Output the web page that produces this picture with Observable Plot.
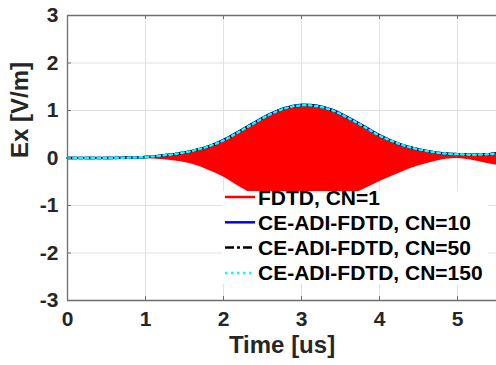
<!DOCTYPE html>
<html>
<head>
<meta charset="utf-8">
<script src="https://cdn.jsdelivr.net/npm/d3@7"></script>
<script src="https://cdn.jsdelivr.net/npm/@observablehq/plot@0.6"></script>
<style>
  html, body { margin: 0; padding: 0; background: white; }
  #wrap { position: relative; width: 496px; height: 365px; overflow: hidden; }
  #legend { position: absolute; left: 222px; top: 191px; width: 266px; height: 93px; background: white; }
  #legend svg { display: block; overflow: visible; }
</style>
</head>
<body>
<div id="wrap"></div>
<script>
// Time axis samples [us]
const time = [0, 0.5, 1.0, 1.2, 1.4, 1.6, 1.8, 2.0, 2.2, 2.4, 2.6, 2.8, 3.0, 3.2, 3.4, 3.6, 3.8, 4.0, 4.2, 4.4, 4.6, 4.8, 5.0, 5.2, 5.4, 5.5];
// FDTD, CN=1 : envelope of the fast oscillation (upper / lower)
const fdtdUpper = [0, 0, 0.02, 0.05, 0.09, 0.15, 0.24, 0.37, 0.55, 0.73, 0.9, 1.03, 1.09, 1.07, 0.98, 0.82, 0.64, 0.45, 0.31, 0.2, 0.12, 0.07, 0.04, 0.04, 0.06, 0.07];
const fdtdLower = [0, 0, -0.01, -0.03, -0.07, -0.13, -0.25, -0.4, -0.6, -0.78, -0.92, -1.03, -1.08, -1.06, -0.97, -0.82, -0.66, -0.5, -0.36, -0.22, -0.12, -0.04, -0.01, -0.05, -0.12, -0.15];
// CE-ADI-FDTD curves
const cn10  = [0, 0, 0.02, 0.05, 0.09, 0.15, 0.24, 0.38, 0.56, 0.75, 0.93, 1.06, 1.12, 1.1, 1.01, 0.85, 0.67, 0.48, 0.33, 0.22, 0.15, 0.1, 0.08, 0.07, 0.08, 0.1];
const cn50  = [0, 0, 0.02, 0.05, 0.09, 0.15, 0.24, 0.37, 0.55, 0.74, 0.92, 1.05, 1.11, 1.09, 1.0, 0.84, 0.66, 0.47, 0.33, 0.22, 0.15, 0.1, 0.08, 0.07, 0.08, 0.1];
const cn150 = [0, 0, 0.02, 0.05, 0.09, 0.15, 0.24, 0.37, 0.55, 0.74, 0.92, 1.05, 1.11, 1.09, 1.0, 0.84, 0.66, 0.47, 0.33, 0.22, 0.15, 0.1, 0.08, 0.07, 0.08, 0.1];

const xTicks = [0, 1, 2, 3, 4, 5];
const yTicks = [-3, -2, -1, 0, 1, 2, 3];
const xDomain = [0, 5.5];
const yDomain = [-3, 3];

const legendLabels = ["FDTD, CN=1", "CE-ADI-FDTD, CN=10", "CE-ADI-FDTD, CN=50", "CE-ADI-FDTD, CN=150"];
const legendColors = ["#ff0000", "#0000ff", "#000000", "#00ffff"];
const legendDash = [null, null, "9,3,3,3", "2.5,3.5"];

const rows = time.map((t, i) => ({t, hi: fdtdUpper[i], lo: fdtdLower[i], cn10: cn10[i], cn50: cn50[i], cn150: cn150[i]}));

const font = "'Liberation Sans', Arial, Helvetica, sans-serif";
const curve = "catmull-rom";

const chart = Plot.plot({
  width: 496,
  height: 365,
  marginLeft: 67,
  marginRight: 0,
  marginTop: 15,
  marginBottom: 65,
  x: {domain: xDomain},
  y: {domain: yDomain},
  style: {fontFamily: font, fontSize: "21px", background: "white", color: "#262626"},
  marks: [
    Plot.gridX(xTicks, {stroke: "#e2e2e2", strokeOpacity: 1}),
    Plot.gridY(yTicks, {stroke: "#e2e2e2", strokeOpacity: 1}),
    Plot.areaY(rows, {x: "t", y1: "lo", y2: "hi", fill: "#ff0000", curve}),
    Plot.line(rows, {x: "t", y: "cn10", stroke: "#0000ff", strokeWidth: 2.5, curve}),
    Plot.line(rows, {x: "t", y: "cn50", stroke: "#000000", strokeWidth: 2.5, strokeDasharray: "9,3,3,3", curve}),
    Plot.line(rows, {x: "t", y: "cn150", stroke: "#00ffff", strokeWidth: 2.5, strokeDasharray: "2.5,3.5", curve}),
    Plot.ruleX([xDomain[0]], {stroke: "#6e6e6e", strokeWidth: 1.3}),
    Plot.ruleY([yDomain[0]], {stroke: "#6e6e6e", strokeWidth: 1.3}),
    Plot.ruleY([yDomain[1]], {stroke: "#6e6e6e", strokeWidth: 1.3}),
    Plot.tickX(xTicks, {insetTop: 281, stroke: "#6e6e6e"}),
    Plot.tickX(xTicks, {insetBottom: 281, stroke: "#6e6e6e"}),
    Plot.tickY(yTicks, {insetRight: 425, stroke: "#6e6e6e"}),
    Plot.axisX(xTicks, {tickSize: 0, tickPadding: 11, label: null, fontWeight: "bold", fontSize: 21, fill: "#262626"}),
    Plot.axisY(yTicks, {tickSize: 0, tickPadding: 9, label: null, fontWeight: "bold", fontSize: 21, fill: "#262626", tickFormat: d => String(d)}),
    Plot.text(["Time [us]"], {frameAnchor: "bottom", dy: 52, text: d => d, fontWeight: "bold", fontSize: 24, fill: "#262626"}),
    Plot.text(["Ex [V/m]"], {frameAnchor: "left", dx: -47, rotate: -90, text: d => d, fontWeight: "bold", fontSize: 24, fill: "#262626"})
  ]
});

const wrap = document.getElementById("wrap");
wrap.appendChild(chart);

// Legend (white box overlaying the axes, as in the original)
const leg = document.createElement("div");
leg.id = "legend";
const ns = "http://www.w3.org/2000/svg";
const lsvg = document.createElementNS(ns, "svg");
lsvg.setAttribute("width", 266);
lsvg.setAttribute("height", 93);
legendLabels.forEach((lab, i) => {
  const cy = 6 + i * 25.3;
  const ln = document.createElementNS(ns, "line");
  ln.setAttribute("x1", 3); ln.setAttribute("x2", 33);
  ln.setAttribute("y1", cy); ln.setAttribute("y2", cy);
  ln.setAttribute("stroke", legendColors[i]);
  ln.setAttribute("stroke-width", 2.5);
  if (legendDash[i]) ln.setAttribute("stroke-dasharray", legendDash[i]);
  lsvg.appendChild(ln);
  const tx = document.createElementNS(ns, "text");
  tx.setAttribute("x", 36);
  tx.setAttribute("y", cy + 7.5);
  tx.setAttribute("font-family", font);
  tx.setAttribute("font-weight", "bold");
  tx.setAttribute("font-size", 21);
  tx.setAttribute("fill", "#000");
  tx.textContent = lab;
  lsvg.appendChild(tx);
});
leg.appendChild(lsvg);
wrap.appendChild(leg);
</script>
</body>
</html>
